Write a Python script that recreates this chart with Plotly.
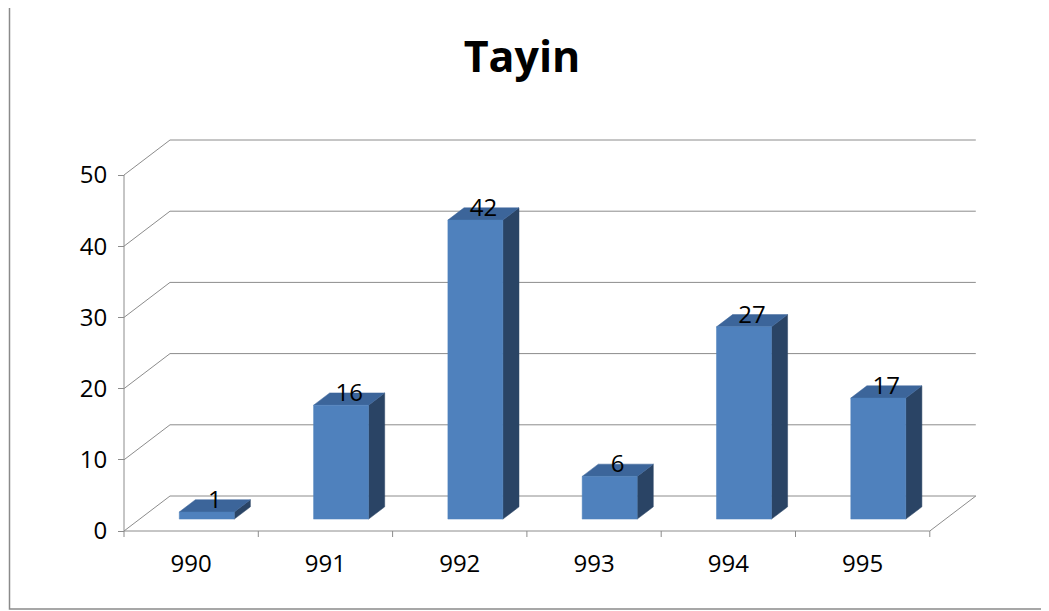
import plotly.graph_objects as go

# chart data
title = "Tayin"
categories = ["990", "991", "992", "993", "994", "995"]
values = [1, 16, 42, 6, 27, 17]
y_ticks = [0, 10, 20, 30, 40, 50]

# the page puts the figure 8px in from the window corner
OFF = 8
W, H = 1049 - OFF, 611 - OFF

# pixel scale of the fake 3D projection (figure pixels)
XPX = 134.3      # px per category
YPX = 7.12       # px per value unit
X0PX, Y0PX = 124 - OFF, 531 - OFF   # front-left corner of the floor
DEPTH_PX = (46, -35)                # back wall offset in px
DX = DEPTH_PX[0] / XPX
DY = -DEPTH_PX[1] / YPX

BAR_W = 55 / XPX
BAR_D0, BAR_D1 = 0.34, 0.69   # depth span of the bars (fraction of wall depth)

FRONT = "#4F81BD"
TOP = "#3C659A"
SIDE = "#2A4465"
GRID = "#8C8C8C"

# plot area in figure pixels
L, R, T, B = 90, 1000, 110, 545


def px2x(px):
    return -0.5 + (px - X0PX) / XPX


def py2y(py):
    return (Y0PX - py) / YPX


def paper_x(px):
    return (px - L) / (R - L)


def paper_y(py):
    return (B - py) / (B - T)


n = len(categories)
ymax = y_ticks[-1]

fig = go.Figure()

# back wall gridlines (diagonal on the left side wall, then along the back)
gx, gy = [], []
for v in y_ticks:
    gx += [-0.5, -0.5 + DX, n - 0.5 + DX, None]
    gy += [v, v + DY, v + DY, None]
# floor: right edge diagonal
gx += [n - 0.5, n - 0.5 + DX, None]
gy += [0, DY, None]
fig.add_trace(go.Scatter(x=gx, y=gy, mode="lines", line=dict(color=GRID, width=1),
                         hoverinfo="skip", showlegend=False))

# front axes: value axis line, category baseline and category boundary ticks
tick_len = 6 / YPX
ax, ay = [-0.5, -0.5, None, -0.5, n - 0.5, None], [ymax, 0, None, 0, 0, None]
for i in range(n + 1):
    ax += [i - 0.5, i - 0.5, None]
    ay += [0, -tick_len, None]
fig.add_trace(go.Scatter(x=ax, y=ay, mode="lines", line=dict(color=GRID, width=1),
                         hoverinfo="skip", showlegend=False))

# 3D bars
for i, v in enumerate(values):
    x0 = i - BAR_W / 2 + BAR_D0 * DX
    x1 = x0 + BAR_W
    b0 = BAR_D0 * DY
    t0 = b0 + v
    ddx = (BAR_D1 - BAR_D0) * DX
    ddy = (BAR_D1 - BAR_D0) * DY
    # right side
    fig.add_trace(go.Scatter(
        x=[x1, x1 + ddx, x1 + ddx, x1, x1], y=[b0, b0 + ddy, t0 + ddy, t0, b0],
        fill="toself", fillcolor=SIDE, mode="lines", line=dict(color=SIDE, width=0.5),
        hoverinfo="skip", showlegend=False))
    # top
    fig.add_trace(go.Scatter(
        x=[x0, x1, x1 + ddx, x0 + ddx, x0], y=[t0, t0, t0 + ddy, t0 + ddy, t0],
        fill="toself", fillcolor=TOP, mode="lines", line=dict(color=TOP, width=0.5),
        hoverinfo="skip", showlegend=False))
    # front
    fig.add_trace(go.Scatter(
        x=[x0, x1, x1, x0, x0], y=[b0, b0, t0, t0, b0],
        fill="toself", fillcolor=FRONT, mode="lines", line=dict(color=FRONT, width=0.5),
        name=categories[i], hovertemplate=f"{categories[i]}: {v}<extra></extra>",
        showlegend=False))

# data labels at the centre of each bar's top face
lx = [i + (BAR_D0 + BAR_D1) / 2 * DX for i in range(n)]
ly = [v + (BAR_D0 + BAR_D1) / 2 * DY + 4 / YPX for v in values]
fig.add_trace(go.Scatter(x=lx, y=ly, mode="text", text=[str(v) for v in values],
                         textposition="middle center",
                         textfont=dict(family="Open Sans", size=24, color="black"),
                         hoverinfo="skip", showlegend=False))

# chart border (left, bottom, right; top edge is outside the picture)
bx0, bx1, by0, by1 = paper_x(9.5 - OFF), paper_x(1042 - OFF), paper_y(609 - OFF), paper_y(-20)
border = f"M {bx0} {by1} L {bx0} {by0} L {bx1} {by0} L {bx1} {by1}"

fig.update_layout(
    width=W, height=H,
    margin=dict(l=L, r=W - R, t=T, b=H - B, pad=0),
    paper_bgcolor="white", plot_bgcolor="white",
    font=dict(family="Open Sans", size=24, color="black"),
    title=dict(text=f"<b>{title}</b>", x=(522 - OFF) / W, xref="container",
               xanchor="center", y=1 - (57 - OFF) / H, yref="container",
               yanchor="middle", font=dict(family="Open Sans", size=43, color="black")),
    xaxis=dict(range=[px2x(L), px2x(R)], tickvals=list(range(n)), ticktext=categories,
               showgrid=False, zeroline=False, showline=False, ticks="",
               anchor="free", position=paper_y(Y0PX),
               ticklabelstandoff=16, fixedrange=True),
    yaxis=dict(range=[py2y(B), py2y(T)], tickvals=y_ticks, showgrid=False,
               zeroline=False, showline=False, ticks="outside", ticklen=6,
               tickcolor=GRID, anchor="free", position=paper_x(X0PX),
               ticklabelstandoff=6, fixedrange=True),
    shapes=[dict(type="path", xref="paper", yref="paper", path=border,
                 line=dict(color="#8A8A8A", width=1.5))],
)

fig.write_html("out.html")
